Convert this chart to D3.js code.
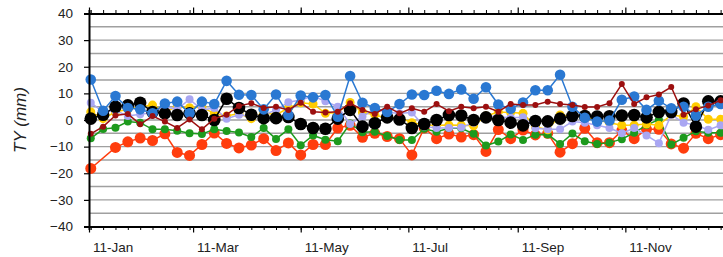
<!DOCTYPE html>
<html>
<head>
<meta charset="utf-8">
<script src="https://cdn.jsdelivr.net/npm/d3@7"></script>
<style>
  body { margin: 0; background: #fff; }
  svg { display: block; font-family: "Liberation Sans", Arial, sans-serif; }
</style>
</head>
<body>
<div class="chart"></div>
<script>
"use strict";

// weekly readings, first one on 12 Jan
const dates = d3.timeWednesday.range(new Date(2011, 0, 12), new Date(2012, 0, 5));
const monthTicks = ["2011-01-11", "2011-03-11", "2011-05-11", "2011-07-11", "2011-09-11", "2011-11-11"];
const yTicks = [-40, -30, -20, -10, 0, 10, 20, 30, 40];

const blue = [15.2, 3.5, 9, 4.5, 4, 2.5, 6.2, 6.9, 2.5, 6.9, 6, 14.7, 9.5, 9.4, 4, 9.6, 1.9, 9.2, 8.5, 9.4, 1.2, 16.5, 6.5, 4.5, 3, 6, 9.6, 9.4, 11, 9.8, 11.5, 8, 12.3, 5.8, 4.2, 6.6, 11.2, 11.2, 17, 5, 0.8, -0.6, -0.2, 7.6, 8.8, 3.8, 7.2, 4.4, 5, 1.7, 5, 6];
const black = [0.5, 2, 5, 5.5, 6.5, 3, 2.5, 1.9, 2.5, 1.9, 0, 8, 4.5, 2, 0.7, 0.7, 1.1, -1.5, -3, -3.3, 0.5, 3.8, -2.5, -1.2, 1, 0.2, -3, -1.5, 0, 1.9, 1.7, 0, 1, 0, -1, -2, -0.4, -0.5, 0.5, 1.5, 1.5, 1.3, 1.4, 1.7, 1.9, 1, 3, 3, 6.2, -2.5, 7, 7];
const orange = [-18.2, null, -10.3, -8.2, -6.8, -7.7, -5.2, -12.2, -13.3, -9.2, -4.9, -8.8, -10.5, -9.4, -7, -11.5, -8.6, -13.1, -9.2, -9.2, -3, -2, -6.5, -5, -6.2, -7, -13.1, -3, -7, -5.3, -6.4, -5.5, -11.8, -3.6, -7, -3.8, -5.6, -5, -12.1, -8.9, -3.1, -8.5, -8.5, -4, -7, -3.5, -3.5, -9, -10.6, -5, -7, -5.5];
const green = [-6.9, -3.4, -2.9, -0.6, -1, -3.5, -3.5, -4, -5, -5.3, -3.5, -4.1, -4.7, -6.4, -3, -7.1, -3.5, -9.5, -5.8, -7.4, -8, -1.3, -4.6, -4.4, -6, -7.5, -7.5, -3.3, -4.4, -3.1, -3.1, -5.2, -9.6, -8.1, -5.4, -7.5, -5.5, -5.4, -9, -5.1, -8, -9, -8.5, -7.2, -4.8, -1.9, 0.2, -9.2, -6.7, -4.2, -4.8, -4.8];
const darkred = [-5.2, -2.5, 1.7, 2.3, -1.6, 1.5, -0.6, -3, 0.2, -3.5, 0.5, 2, 5.3, 6.3, 4.5, 5, 3.8, 6.5, 3.1, 2.8, 3.1, 6.3, 3.8, 2.3, 5, 2.5, 4.4, 3.1, 6, 3.3, 5, 4.4, 5, 3.1, 6, 5.6, 5.6, 6.9, 6, 5.6, 4.9, 4.9, 6.3, 13.5, 6, 8.5, 9.6, 12.4, 2, 4, 5.4, 7.4];
const yellow = [3, 0.5, 3, 4, 5, 5.6, 3.1, 5, 4.6, 4.9, 2.4, 1.5, 2.4, 0.5, 2.8, 1.9, 4.5, 6.5, 6, 2.5, 2.7, 6.6, 2.8, 2, 0.6, 1, -1, -1.9, -2, -1.9, -2, -2.2, 1.5, 3, 2.8, 2.5, -2.5, -3.7, 1.9, 1.3, 1.3, 0, -1, -2, -1.9, -1.5, -2, 2, 1.2, 5, 0.3, 0.3];
const lavender = [6.5, 3, 3.5, 1.5, 2.2, 2.7, 5, 4, 7.8, 3.8, 4.5, 0.5, 2, 1.3, 1.9, 3.8, 6.7, 7.5, 9, 7, 5, -1.5, 1.3, 4.2, 2.8, 2.5, 2.8, -2.4, -3, -3, -2.8, -1, 1.5, 1.2, 0.8, 1, -3.1, -3.5, -3.5, -0.6, -1, -2, -3, -5, -3, -5.8, -8.7, 1.9, -1, -2, -3.7, -2];

// drawing order, bottom first
const series = [
  { values: orange, color: "#ff3d0d", r: 5.5 },
  { values: green, color: "#1d9a1d", r: 4 },
  { values: yellow, color: "#ffcc00", r: 4.5 },
  { values: lavender, color: "#a9a6f2", r: 4 },
  { values: black, color: "#000000", r: 6.3 },
  { values: blue, color: "#2a78d2", r: 5.3 },
  { values: darkred, color: "#9c0f0f", r: 3 }
];

const WIDTH = 723, HEIGHT = 257;
const LEFT = 89, TOP = 13.5, BOTTOM = 226.5;
const PX_PER_DAY = 1.7643;
const xStart = new Date(2011, 0, 11), xEnd = new Date(2012, 0, 8);

const xScale = d3.scaleTime()
  .domain([xStart, xEnd])
  .range([LEFT, LEFT + d3.timeDay.count(xStart, xEnd) * PX_PER_DAY]);
const yScale = d3.scaleLinear().domain([-40, 40]).range([BOTTOM, TOP]);

const parse = d3.timeParse("%Y-%m-%d");
const fmt = d3.timeFormat("%-d-%b");
const majors = monthTicks.map(parse);

const svg = d3.select(".chart").append("svg")
  .attr("width", WIDTH).attr("height", HEIGHT);

// grid every 5
svg.append("g").selectAll("line")
  .data(d3.range(-35, 40, 5))
  .enter().append("line")
  .attr("x1", LEFT).attr("x2", WIDTH)
  .attr("y1", d => yScale(d)).attr("y2", d => yScale(d))
  .style("stroke", "#a0a0a0").style("stroke-width", 1.4);

// series
series.forEach(s => {
  const pts = dates.map((d, i) => ({ date: d, v: s.values[i] })).filter(p => p.v != null);
  const line = d3.line().x(p => xScale(p.date)).y(p => yScale(p.v));
  svg.append("path").datum(pts)
    .attr("d", line)
    .style("fill", "none").style("stroke", s.color).style("stroke-width", 1.5);
  svg.append("g").selectAll("circle")
    .data(pts).enter().append("circle")
    .attr("cx", p => xScale(p.date))
    .attr("cy", p => yScale(p.v))
    .attr("r", s.r)
    .style("fill", s.color);
});

// y axis
const yAxis = svg.append("g")
  .attr("transform", `translate(${LEFT},0)`)
  .call(d3.axisLeft(yScale).tickValues(yTicks).tickSize(5).tickPadding(11).tickFormat(d3.format("d")));
yAxis.select(".domain").style("stroke", "#000").style("stroke-width", 2);
yAxis.selectAll(".tick line").style("stroke", "#000").style("stroke-width", 1.2);
yAxis.selectAll("text").style("font-size", "13.5px").style("fill", "#222");

// bottom and top axes: weekly minor ticks + major ticks
function timeAxes(g, axisFn, y) {
  const minor = g.append("g").attr("transform", `translate(0,${y})`)
    .call(axisFn(xScale).tickValues(dates).tickSize(3.5).tickFormat(""));
  minor.select(".domain").style("stroke", "#000").style("stroke-width", 2);
  minor.selectAll(".tick line").style("stroke", "#000").style("stroke-width", 1);
  const major = g.append("g").attr("transform", `translate(0,${y})`)
    .call(axisFn(xScale).tickValues(majors).tickSize(6).tickFormat(""));
  major.select(".domain").remove();
  major.selectAll(".tick line").style("stroke", "#000").style("stroke-width", 1.2);
}
timeAxes(svg.append("g"), d3.axisBottom, BOTTOM);
timeAxes(svg.append("g"), d3.axisTop, TOP);

svg.append("g").selectAll("text")
  .data(majors).enter().append("text")
  .attr("x", d => xScale(d) + 4)
  .attr("y", 252)
  .style("font-size", "13.5px").style("fill", "#222")
  .text(d => fmt(d));

// axis title
svg.append("text")
  .attr("transform", "translate(26,120) rotate(-90)")
  .attr("text-anchor", "middle")
  .style("font-size", "17px").style("font-style", "italic").style("fill", "#222")
  .text("TY (mm)");
</script>
</body>
</html>
